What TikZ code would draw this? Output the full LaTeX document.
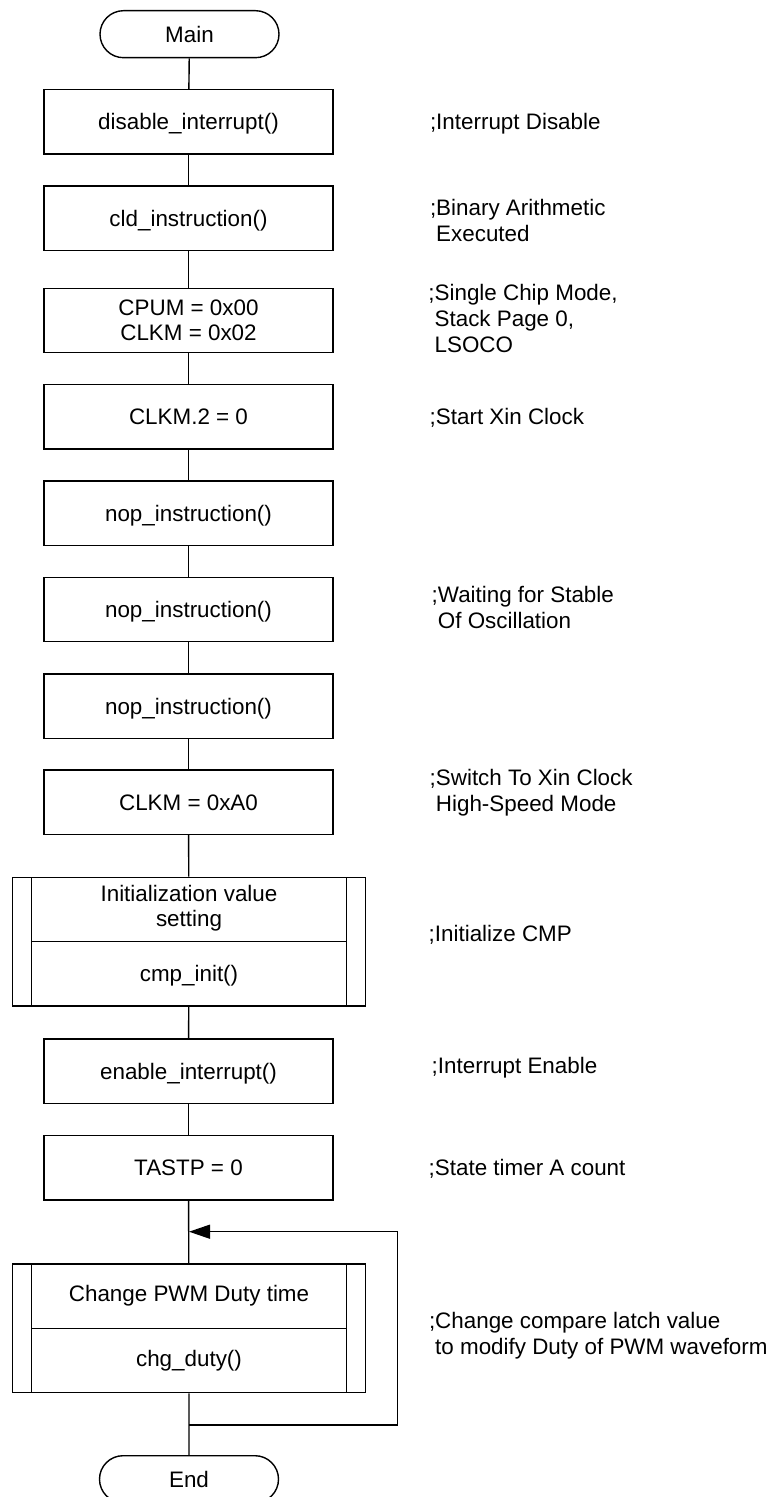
\documentclass[tikz,border=0pt]{standalone}
\usepackage{fontspec}
\setmainfont{Liberation Sans}
\usetikzlibrary{shapes.misc,arrows.meta}
\begin{document}
\begin{tikzpicture}[x=0.5pt,y=-0.5pt, line width=0.7pt,
 every node/.style={font=\fontsize{11.2}{12.6}\selectfont, inner sep=0pt},
 term/.style={draw, rounded rectangle, minimum width=89.5pt, minimum height=23.5pt, text height=8pt, text depth=0pt},
 stepbox/.style={draw, rectangle, minimum width=144.5pt, minimum height=32.2pt, text height=8pt, text depth=0pt},
 multibox/.style={draw, rectangle, minimum width=144.5pt, minimum height=32.2pt, align=center},
 predef/.style={draw, rectangle, minimum width=176.7pt, minimum height=64.3pt,
   path picture={\draw ([xshift=9.7pt]path picture bounding box.north west) -- ([xshift=9.7pt]path picture bounding box.south west)
      ([xshift=-9.7pt]path picture bounding box.north east) -- ([xshift=-9.7pt]path picture bounding box.south east)
      ([xshift=9.7pt]path picture bounding box.west) -- ([xshift=-9.7pt]path picture bounding box.east);}},
 cmt/.style={anchor=base west, align=left, font=\fontsize{11.2}{13}\selectfont},
 lbl/.style={anchor=base},
 tip/.style={-{Triangle[length=10.5pt,width=7pt]}}
]
\useasboundingbox (0,0) rectangle (774,1497);

% flow nodes
\node[term] (main) at (189.5,34.2) {Main};
\node[stepbox] (b1) at (188.5,121.7) {disable\_interrupt()};
\node[stepbox] (b2) at (188.5,218.3) {cld\_instruction()};
\node[multibox] (b3) at (188.5,320.5) {CPUM = 0x00\\CLKM = 0x02};
\node[stepbox] (b4) at (188.5,416.8) {CLKM.2 = 0};
\node[stepbox] (b5) at (188.5,513.2) {nop\_instruction()};
\node[stepbox] (b6) at (188.5,609.5) {nop\_instruction()};
\node[stepbox] (b7) at (188.5,706) {nop\_instruction()};
\node[stepbox] (b8) at (188.5,802.2) {CLKM = 0xA0};
\node[predef] (init) at (189,941.5) {};
\node[align=center] (initA) at (189,908.6) {Initialization value\\setting};
\node[lbl] (initB) at (189,981.7) {cmp\_init()};
\node[stepbox] (b10) at (188.5,1071.3) {enable\_interrupt()};
\node[stepbox] (b11) at (188.5,1167.9) {TASTP = 0};
\node[predef] (chg) at (189,1328.4) {};
\node[lbl] (chgA) at (189,1301.7) {Change PWM Duty time};
\node[lbl] (chgB) at (189,1366.7) {chg\_duty()};
\node[term] (end) at (189,1479.2) {End};

% comments (base anchor = baseline of the last line)
\node[cmt] (c1) at (429.3,129.3) {;Interrupt Disable};
\node[cmt] (c2) at (429.3,241.7) {;Binary Arithmetic\\\phantom{;}Executed};
\node[cmt] (c3) at (427.7,353) {;Single Chip Mode,\\\phantom{;}Stack Page 0,\\\phantom{;}LSOCO};
\node[cmt] (c4) at (429,424.4) {;Start Xin Clock};
\node[cmt] (c6) at (431,628.3) {;Waiting for Stable\\\phantom{;}Of Oscillation};
\node[cmt] (c8) at (429,811.7) {;Switch To Xin Clock\\\phantom{;}High-Speed Mode};
\node[cmt] (c9) at (428,941.7) {;Initialize CMP};
\node[cmt] (c10) at (431,1073.3) {;Interrupt Enable};
\node[cmt] (c11) at (428,1175) {;State timer A count};
\node[cmt] (c12) at (428.3,1354) {;Change compare latch value\\\phantom{;}to modify Duty of PWM waveform};

% connectors
\draw (main) -- (b1);
\draw (b1) -- (b2);
\draw (b2) -- (b3);
\draw (b3) -- (b4);
\draw (b4) -- (b5);
\draw (b5) -- (b6);
\draw (b6) -- (b7);
\draw (b7) -- (b8);
\draw (b8) -- (init);
\draw (init) -- (b10);
\draw (b10) -- (b11);
\draw (b11) -- (chg);
\draw (chg) -- (end);

% loop back
\coordinate (lpB) at (189,1425);
\coordinate (lpBR) at (397.7,1425);
\coordinate (lpTR) at (397.7,1231.7);
\coordinate (lpJ) at (189,1231.7);
\draw[tip] (lpB) -- (lpBR) -- (lpTR) -- (lpJ);
\end{tikzpicture}
\end{document}
